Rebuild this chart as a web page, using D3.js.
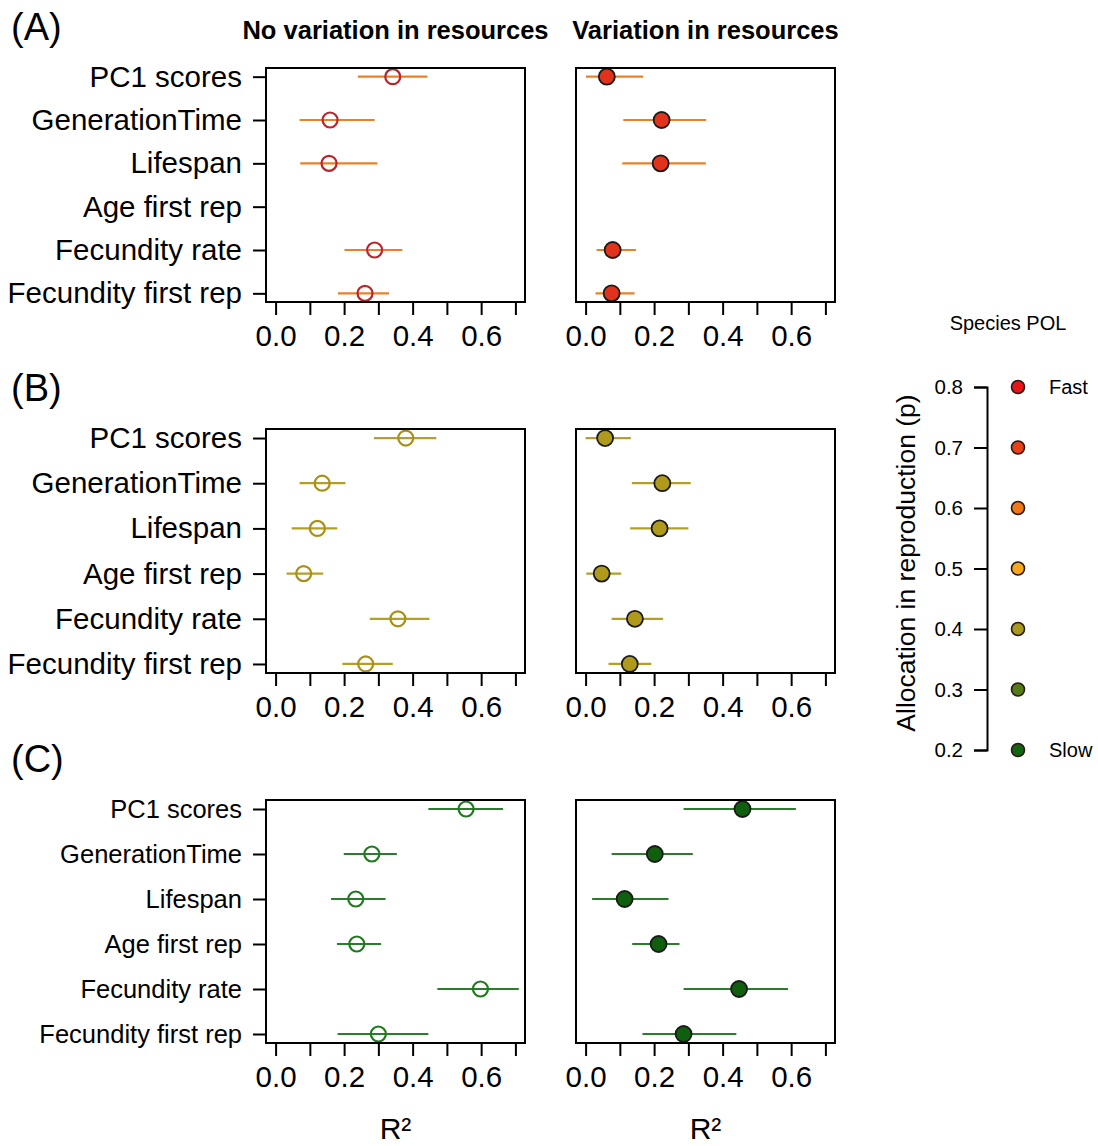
<!DOCTYPE html>
<html>
<head>
<meta charset="utf-8" />
<title>R2 of life history traits</title>
<script src="https://d3js.org/d3.v7.min.js"></script>
<style>
  body { margin: 0px; background-color: white; }
  svg text { font-family: "Liberation Sans", Arial, Helvetica, sans-serif; fill: black; }
  .ax line { stroke: black; stroke-width: 2; }
  .ax path { display: none; }
  .legax path { stroke: black; stroke-width: 2; }
</style>
</head>
<body>
<svg id="chart"></svg>
<script>
// rows of every panel (top to bottom)
var traits = ["PC1 scores", "GenerationTime", "Lifespan", "Age first rep", "Fecundity rate", "Fecundity first rep"];
var xTicks = [0, 0.1, 0.2, 0.3, 0.4, 0.5, 0.6, 0.7];
var columnTitles = ["No variation in resources", "Variation in resources"];

// (A) - no variation / variation in resources (null = not estimated)
var aNoVarR2 = [0.342, 0.159, 0.156, null, 0.289, 0.261];
var aNoVarLo = [0.240, 0.070, 0.072, null, 0.201, 0.182];
var aNoVarHi = [0.443, 0.289, 0.297, null, 0.370, 0.331];
var aVarR2   = [0.062, 0.222, 0.219, null, 0.079, 0.076];
var aVarLo   = [0.001, 0.110, 0.107, null, 0.032, 0.029];
var aVarHi   = [0.168, 0.352, 0.351, null, 0.147, 0.143];

// (B)
var bNoVarR2 = [0.380, 0.136, 0.122, 0.082, 0.357, 0.263];
var bNoVarLo = [0.287, 0.070, 0.047, 0.032, 0.275, 0.195];
var bNoVarHi = [0.469, 0.204, 0.180, 0.139, 0.449, 0.342];
var bVarR2   = [0.057, 0.224, 0.216, 0.047, 0.144, 0.129];
var bVarLo   = [0.000, 0.135, 0.130, 0.002, 0.076, 0.067];
var bVarHi   = [0.132, 0.307, 0.300, 0.104, 0.226, 0.192];

// (C)
var cNoVarR2 = [0.556, 0.281, 0.234, 0.237, 0.598, 0.300];
var cNoVarLo = [0.446, 0.199, 0.162, 0.179, 0.472, 0.181];
var cNoVarHi = [0.664, 0.354, 0.321, 0.308, 0.710, 0.446];
var cVarR2   = [0.458, 0.202, 0.114, 0.213, 0.448, 0.286];
var cVarLo   = [0.286, 0.076, 0.019, 0.136, 0.286, 0.166];
var cVarHi   = [0.614, 0.313, 0.242, 0.274, 0.591, 0.440];

// legend: species POL
var legendP = [0.8, 0.7, 0.6, 0.5, 0.4, 0.3, 0.2];
var legendColors = ["#e8141a", "#e8401a", "#f07818", "#f5a81e", "#a89820", "#557a18", "#126312"];
var legendNames = ["Fast", "", "", "", "", "", "Slow"];

var width = 1098, height = 1146;
var svg = d3.select("#chart").attr("width", width).attr("height", height);

var cols = [{x0: 266, x1: 525}, {x0: 576, x1: 835}];

var panels = [
  {letter: "(A)", top: 68, bottom: 302, labelSize: 29.5,
   open: "#b8262b", fill: "#e2321c", whisker: "#e8822a",
   sets: [[aNoVarR2, aNoVarLo, aNoVarHi], [aVarR2, aVarLo, aVarHi]]},
  {letter: "(B)", top: 429, bottom: 673, labelSize: 29.5,
   open: "#a89018", fill: "#b09a1c", whisker: "#b4a024",
   sets: [[bNoVarR2, bNoVarLo, bNoVarHi], [bVarR2, bVarLo, bVarHi]]},
  {letter: "(C)", top: 800, bottom: 1043, labelSize: 25.5,
   open: "#1f7a1f", fill: "#0f5f0f", whisker: "#2a7d2a",
   sets: [[cNoVarR2, cNoVarLo, cNoVarHi], [cVarR2, cVarLo, cVarHi]]}
];

// column titles
columnTitles.forEach(function(t, c) {
  svg.append("text")
    .attr("x", (cols[c].x0 + cols[c].x1) / 2)
    .attr("y", 39)
    .attr("text-anchor", "middle")
    .style("font-size", "25.5px")
    .style("font-weight", "bold")
    .text(t);
});

panels.forEach(function(p, pi) {
  svg.append("text")
    .attr("x", 11)
    .attr("y", p.top - 28)
    .style("font-size", "38px")
    .text(p.letter);

  var y = d3.scaleLinear().domain([0.8, 6.2]).range([p.top, p.bottom]);

  p.sets.forEach(function(set, c) {
    var x = d3.scaleLinear().domain([-0.028, 0.728]).range([cols[c].x0, cols[c].x1]);
    var g = svg.append("g");
    var rows = d3.range(traits.length).filter(function(i) { return set[0][i] !== null; });

    // whiskers
    g.selectAll(".wh").data(rows).enter().append("line")
      .attr("x1", function(i) { return x(set[1][i]); })
      .attr("x2", function(i) { return x(set[2][i]); })
      .attr("y1", function(i) { return y(i + 1); })
      .attr("y2", function(i) { return y(i + 1); })
      .attr("stroke", p.whisker)
      .attr("stroke-width", 2.2);

    // points: open circles without variation, filled with variation
    g.selectAll(".pt").data(rows).enter().append("circle")
      .attr("cx", function(i) { return x(set[0][i]); })
      .attr("cy", function(i) { return y(i + 1); })
      .attr("r", c === 0 ? 7.5 : 8)
      .attr("fill", c === 0 ? "none" : p.fill)
      .attr("stroke", c === 0 ? p.open : "#1a1a1a")
      .attr("stroke-width", c === 0 ? 2.2 : 1.8);

    // box
    g.append("rect")
      .attr("x", cols[c].x0).attr("y", p.top)
      .attr("width", cols[c].x1 - cols[c].x0)
      .attr("height", p.bottom - p.top)
      .attr("fill", "none")
      .attr("stroke", "black")
      .attr("stroke-width", 2);

    var xAxis = d3.axisBottom(x)
      .tickValues(xTicks)
      .tickSize(13)
      .tickPadding(10)
      .tickFormat(function(d, i) { return i % 2 === 0 ? d3.format(".1f")(d) : ""; });
    svg.append("g")
      .attr("class", "ax")
      .attr("transform", "translate(0," + p.bottom + ")")
      .call(xAxis)
      .selectAll("text").style("font-size", "29.5px");

    if (c === 0) {
      var yAxis = d3.axisLeft(y)
        .tickValues(d3.range(1, traits.length + 1))
        .tickSize(13)
        .tickPadding(11)
        .tickFormat(function(d) { return traits[d - 1]; });
      svg.append("g")
        .attr("class", "ax")
        .attr("transform", "translate(" + cols[c].x0 + ",0)")
        .call(yAxis)
        .selectAll("text").style("font-size", p.labelSize + "px");
    }

    if (pi === panels.length - 1) {
      svg.append("text")
        .attr("x", (cols[c].x0 + cols[c].x1) / 2)
        .attr("y", 1139)
        .attr("text-anchor", "middle")
        .style("font-size", "30px")
        .text("R\u00b2");
    }
  });
});

// legend
var ly = d3.scaleLinear().domain([0.2, 0.8]).range([750, 387]);
svg.append("text")
  .attr("x", 1008).attr("y", 330)
  .attr("text-anchor", "middle")
  .style("font-size", "20px")
  .text("Species POL");

svg.append("g")
  .attr("class", "legax")
  .attr("transform", "translate(987,0)")
  .call(d3.axisLeft(ly).tickValues(legendP).tickSize(13).tickPadding(11).tickFormat(d3.format(".1f")))
  .call(function(g) { g.selectAll("line").attr("stroke", "black").attr("stroke-width", 2); })
  .selectAll("text").style("font-size", "20.5px");

svg.selectAll(".lg").data(legendP).enter().append("circle")
  .attr("cx", 1018)
  .attr("cy", function(d) { return ly(d); })
  .attr("r", 6.5)
  .attr("fill", function(d, i) { return legendColors[i]; })
  .attr("stroke", "#2a1a10")
  .attr("stroke-width", 1.6);

svg.selectAll(".lgt").data(legendP).enter().append("text")
  .attr("x", 1049)
  .attr("y", function(d) { return ly(d); })
  .attr("dy", "0.35em")
  .style("font-size", "20px")
  .text(function(d, i) { return legendNames[i]; });

svg.append("text")
  .attr("transform", "translate(915,563) rotate(-90)")
  .attr("text-anchor", "middle")
  .style("font-size", "26.5px")
  .text("Allocation in reproduction (p)");
</script>
</body>
</html>
